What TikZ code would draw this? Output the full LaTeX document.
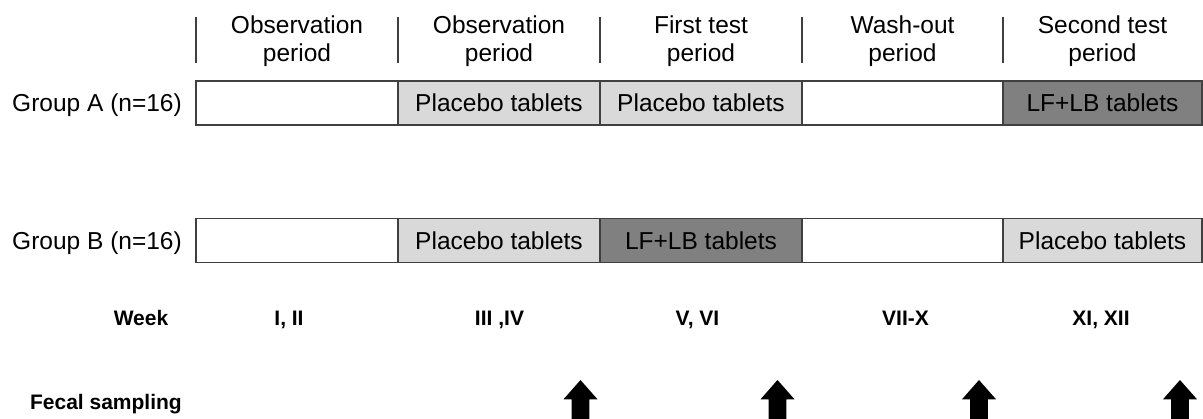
\documentclass[tikz,border=0pt]{standalone}
\usepackage{fontspec}
\setmainfont{Liberation Sans}
\definecolor{lightg}{HTML}{D9D9D9}
\definecolor{darkg}{HTML}{808080}
\definecolor{edge}{HTML}{404040}
\begin{document}
\begin{tikzpicture}[x=1pt,y=-1pt,
  cell/.style={draw=edge,line width=1.4pt,minimum width=202pt,minimum height=44pt,inner sep=0pt,
    font=\fontsize{24.5}{28}\selectfont},
  lastcell/.style={minimum width=199pt},
  light/.style={cell,fill=lightg},
  dark/.style={cell,fill=darkg},
  plain/.style={cell,fill=white},
  hdr/.style={anchor=base,inner sep=0pt,font=\fontsize{24.5}{28}\selectfont},
  grp/.style={anchor=base east,inner sep=0pt,font=\fontsize{24.5}{28}\selectfont},
  bold/.style={anchor=base,inner sep=0pt,font=\fontsize{21}{25}\selectfont\bfseries},
  sepline/.style={draw=edge,line width=1.1pt},
  bigarrow/.style={fill=black}
]
\useasboundingbox (0,0) rectangle (1203,418);

% header separators
\foreach \x in {196,398,600,802,1003}
  \draw[sepline] (\x,17) -- (\x,63);

% header texts
\node[hdr] (h1a) at (297,33) {Observation};
\node[hdr] (h1b) at (297,61) {period};
\node[hdr] (h2a) at (499,33) {Observation};
\node[hdr] (h2b) at (499,61) {period};
\node[hdr] (h3a) at (701,33) {First test};
\node[hdr] (h3b) at (701,61) {period};
\node[hdr] (h4a) at (902.5,33) {Wash-out};
\node[hdr] (h4b) at (902.5,61) {period};
\node[hdr] (h5a) at (1102.5,33) {Second test};
\node[hdr] (h5b) at (1102.5,61) {period};

% group A
\node[grp] (ga) at (182,111.7) {Group A (n=16)};
\node[plain] (a1) at (297,103) {};
\node[light] (a2) at (499,103) {Placebo tablets};
\node[light] (a3) at (701,103) {Placebo tablets};
\node[plain,minimum width=201pt] (a4) at (902.5,103) {};
\node[dark,lastcell]  (a5) at (1102.5,103) {LF+LB tablets};

% group B
\node[grp] (gb) at (182,249.5) {Group B (n=16)};
\node[plain] (b1) at (297,240.5) {};
\node[light] (b2) at (499,240.5) {Placebo tablets};
\node[dark]  (b3) at (701,240.5) {LF+LB tablets};
\node[plain,minimum width=201pt] (b4) at (902.5,240.5) {};
\node[light,lastcell] (b5) at (1102.5,240.5) {Placebo tablets};

% week row
\node[bold] (wk) at (141,325) {Week};
\node[bold] (w1) at (289,325) {I, II};
\node[bold] (w2) at (499.5,325) {III ,IV};
\node[bold] (w3) at (697.5,325) {V, VI};
\node[bold] (w4) at (905.5,325) {VII-X};
\node[bold] (w5) at (1101,325) {XI, XII};

% fecal sampling
\node[bold,anchor=base east] (fs) at (182,409) {Fecal sampling};
\foreach \x in {580.5,777.5,979,1180}
  \fill[bigarrow] (\x,380) -- (\x+17,399.3) -- (\x+8.8,399.3) -- (\x+8.8,420) -- (\x-8.8,420)
     -- (\x-8.8,399.3) -- (\x-17,399.3) -- cycle;
\end{tikzpicture}
\end{document}
